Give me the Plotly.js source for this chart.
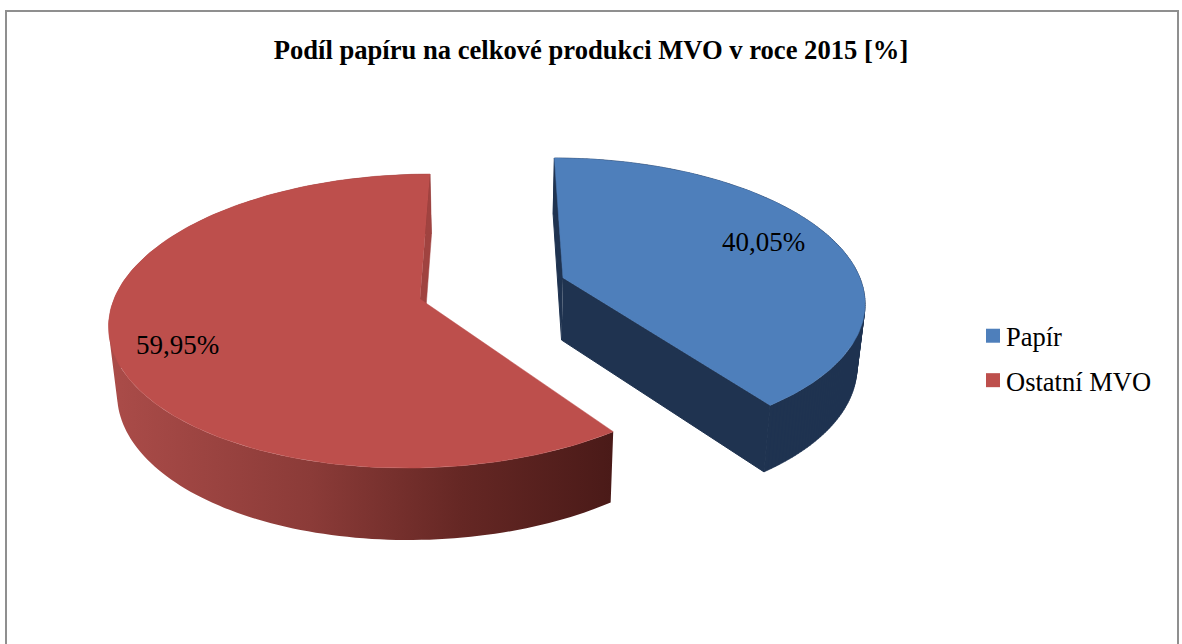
<!DOCTYPE html>
<html>
<head>
<meta charset="utf-8">
<script src="https://cdn.plot.ly/plotly-3.0.1.min.js"></script>
<style>html,body{margin:0;padding:0;background:#fff}#c{width:1182px;height:644px}</style>
</head>
<body>
<div id="c"></div>
<script>
var categories = ['Papír', 'Ostatní MVO'];
var shares = [40.05, 59.95];
var chartTitle = 'Podíl papíru na celkové produkci MVO v roce 2015 [%]';

var FONT = '"Liberation Serif","Times New Roman",serif';
var xc = 497, k = 0.15, sb = 0.978, STEPS = 160;

function makeView(ax, ay, A, B, H) {
  function pt(u, v, low) {
    var w = 1 - k * v;
    var x = xc + (ax - xc + A * u) / w;
    var y = ay + B * v / w;
    if (low) { x = xc + (x - xc) * sb; y += H * (1 + 0.09 * v); }
    return [x, y];
  }
  function edge(deg, low) { return atAngle(deg, 1, low); }
  function atAngle(deg, r, low) {
    var t = deg * Math.PI / 180;
    return pt(r * Math.sin(t), -r * Math.cos(t), low);
  }
  return { pt: pt, atAngle: atAngle, edge: edge, apex: function (low) { return pt(0, 0, low); } };
}

function arc(view, a0, a1, low) {
  var out = [];
  for (var i = 0; i <= STEPS; i++) out.push(view.edge(a0 + (a1 - a0) * i / STEPS, low));
  return out;
}
function poly(points, color, extra) {
  var t = {
    type: 'scatter', mode: 'lines', x: points.map(function (p) { return p ? p[0] : null; }),
    y: points.map(function (p) { return p ? p[1] : null; }), fill: 'toself', fillcolor: color,
    line: { width: 0.5, color: color }, hoverinfo: 'skip', showlegend: false, connectgaps: false
  };
  if (extra) for (var key in extra) t[key] = extra[key];
  return t;
}
/* The curved wall: one quad per step, all wound the same way, so the silhouette is the full swept area */
function wall(top, low) {
  var pts = [];
  for (var i = 0; i < top.length - 1; i++) {
    var q = [top[i], top[i + 1], low[i + 1], low[i]], area = 0;
    for (var j = 0; j < 4; j++) {
      var n = q[(j + 1) % 4];
      area += q[j][0] * n[1] - n[0] * q[j][1];
    }
    if (area < 0) q.reverse();
    pts = pts.concat(q, [q[0]], [null]);
  }
  return pts;
}

var split = shares[0] / (shares[0] + shares[1]) * 360;
var blue = makeView(563, 278, 297, 138, 62);
var red = makeView(420, 299, 306, 143.7, 66);
var NAVY = '#1f3350', BLUE = '#4e7fbb', RED = '#bd4f4c';

var traces = [];

/* paper slice */
var bTop = arc(blue, 0, split, false), bLow = arc(blue, 0, split, true);
var navyLine = { line: { width: 1, color: NAVY } };
traces.push(poly([blue.apex(false), blue.edge(0, false), blue.edge(0, true), blue.apex(true)], NAVY, navyLine));
traces.push(poly(wall(bTop, bLow), NAVY));
traces.push(poly([blue.apex(false), blue.edge(split, false), blue.edge(split, true), blue.apex(true)], NAVY, navyLine));
traces.push(poly([blue.apex(false)].concat(bTop), BLUE));

/* other slice */
var rTop = arc(red, split, 360, false), rLow = arc(red, split, 360, true);
traces.push(poly(wall(rTop, rLow), '#a84b48', {
  fillgradient: { type: 'horizontal', colorscale: [[0, '#ab4c49'], [0.4, '#8b3b38'], [0.7, '#652724'], [1, '#4a1a18']] },
  line: { width: 0 }
}));
traces.push(poly([red.apex(false), red.edge(360, false), red.edge(360, true), red.apex(true)], '#a04340'));
traces.push(poly([red.apex(false)].concat(rTop), RED));

/* legend entries */
[BLUE, RED].forEach(function (color, i) {
  traces.push({
    type: 'scatter', mode: 'markers', x: [null], y: [null], name: categories[i], legendgroup: 'g' + i,
    marker: { symbol: 'square', size: 14, color: color, line: { width: 0 } }, hoverinfo: 'skip'
  });
});

function pct(v) { return v.toFixed(2).replace('.', ',') + '%'; }
var lb = blue.atAngle(split / 2, 0.74, false);
var lr = red.atAngle(split + (360 - split) / 2, 0.8, false);

var frame = { color: '#8f8f8f', width: 2 };
var layout = {
  width: 1182, height: 644, margin: { l: 0, r: 0, t: 0, b: 0, pad: 0 },
  paper_bgcolor: '#fff', plot_bgcolor: '#fff',
  font: { family: FONT, color: '#000' },
  title: { text: chartTitle, x: 0.5, xanchor: 'center', xref: 'paper', y: 1 - 49.5 / 644, yref: 'paper', yanchor: 'middle',
    font: { family: FONT, size: 26.6, color: '#000', weight: 'bold' } },
  xaxis: { range: [0, 1182], visible: false, fixedrange: true },
  yaxis: { range: [644, 0], visible: false, fixedrange: true },
  showlegend: true,
  legend: { x: 966 / 1182, y: 1 - 312 / 644, xanchor: 'left', yanchor: 'top', bgcolor: 'rgba(0,0,0,0)',
    font: { family: FONT, size: 26.5, color: '#000' }, tracegroupgap: 7, itemwidth: 30 },
  shapes: [
    { type: 'line', x0: 6, x1: 6, y0: 10, y1: 644, line: frame },
    { type: 'line', x0: 5, x1: 1179, y0: 11, y1: 11, line: frame },
    { type: 'line', x0: 1178, x1: 1178, y0: 10, y1: 644, line: frame }
  ],
  annotations: [
    { x: lb[0], y: lb[1], text: pct(shares[0]), showarrow: false, yshift: 6, font: { family: FONT, size: 27, color: '#000' } },
    { x: lr[0], y: lr[1], text: pct(shares[1]), showarrow: false, xshift: 2, yshift: -9, font: { family: FONT, size: 27, color: '#000' } }
  ]
};
Plotly.newPlot('c', traces, layout, { displayModeBar: false, responsive: false }).then(function () {
  document.querySelectorAll('.legend .legendsymbols').forEach(function (g) {
    g.setAttribute('transform', 'translate(7,0)');
  });
});
</script>
</body>
</html>
